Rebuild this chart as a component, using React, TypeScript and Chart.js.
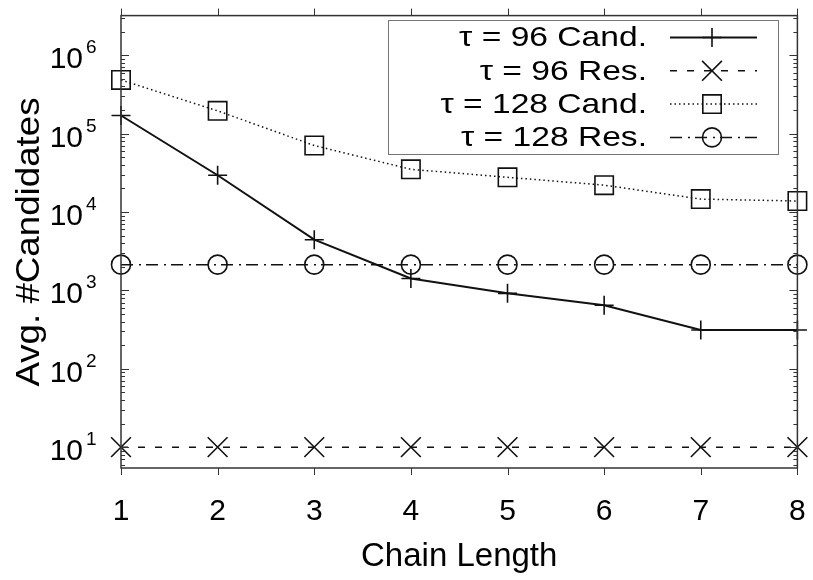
import React, { useEffect, useRef } from 'react';
import { Chart, registerables } from 'chart.js';
import { drawPoint } from 'chart.js/helpers';

Chart.register(...registerables);

// ---- data ----
const chainLengths = [1, 2, 3, 4, 5, 6, 7, 8];
const tau96Cand = [170000, 29400, 4430, 1420, 916, 646, 312, 312];
const tau96Res = [10, 10, 10, 10, 10, 10, 10, 10];
const tau128Cand = [483000, 195000, 70500, 35000, 27700, 22000, 14600, 13800];
const tau128Res = [2130, 2130, 2130, 2130, 2130, 2130, 2130, 2130];
const seriesLabels = ['τ = 96 Cand.', 'τ = 96 Res.', 'τ = 128 Cand.', 'τ = 128 Res.'];
const xTickValues = [1, 2, 3, 4, 5, 6, 7, 8];
const yDecadeExponents = [1, 2, 3, 4, 5, 6];
const xTitle = 'Chain Length';
const yTitle = 'Avg. #Candidates';

const FONT = '"Liberation Sans", Arial, Helvetica, sans-serif';
const INK = '#111';
const AXIS = '#333';

const toPoints = (vals: number[]) => vals.map((v, i) => ({ x: chainLengths[i], y: v }));

const decorPlugin = {
  id: 'decor',
  afterDatasetsDraw(chart: any) {
    const ctx = chart.ctx as CanvasRenderingContext2D;
    const { left, right, top, bottom } = chart.chartArea;
    const xs = chart.scales.x;
    const ys = chart.scales.y;
    ctx.save();
    // border
    ctx.strokeStyle = AXIS;
    ctx.lineWidth = 1.5;
    ctx.setLineDash([]);
    ctx.strokeRect(left, top, right - left, bottom - top);
    // x ticks (outward top & bottom)
    ctx.beginPath();
    xTickValues.forEach((v) => {
      const px = Math.round(xs.getPixelForValue(v)) + 0.5;
      ctx.moveTo(px, bottom);
      ctx.lineTo(px, bottom + 7);
      ctx.moveTo(px, top);
      ctx.lineTo(px, top - 7);
    });
    ctx.lineWidth = 1;
    ctx.stroke();
    // y ticks (inward left & right), major + minor
    ctx.beginPath();
    for (let e = 0; e <= 7; e++) {
      for (let m = 1; m <= 9; m++) {
        const val = m * Math.pow(10, e);
        if (val < ys.min || val > ys.max) continue;
        const py = Math.round(ys.getPixelForValue(val)) + 0.5;
        const len = m === 1 ? 8 : 4;
        ctx.moveTo(left, py);
        ctx.lineTo(left + len, py);
        ctx.moveTo(right, py);
        ctx.lineTo(right - len, py);
      }
    }
    ctx.stroke();

    // x tick labels
    ctx.fillStyle = '#000';
    ctx.font = `30px ${FONT}`;
    ctx.textAlign = 'center';
    ctx.textBaseline = 'middle';
    xTickValues.forEach((v) => {
      ctx.fillText(String(v), xs.getPixelForValue(v), 512);
    });
    // y tick labels 10^n
    yDecadeExponents.forEach((e) => {
      const py = ys.getPixelForValue(Math.pow(10, e));
      ctx.font = `30px ${FONT}`;
      ctx.textAlign = 'right';
      ctx.textBaseline = 'alphabetic';
      ctx.fillText('10', 83, py + 13);
      ctx.font = `19px ${FONT}`;
      ctx.textAlign = 'left';
      ctx.fillText(String(e), 86, py - 2);
    });
    // axis titles
    ctx.font = `33px ${FONT}`;
    ctx.textAlign = 'center';
    ctx.textBaseline = 'middle';
    ctx.fillText(xTitle, (left + right) / 2, 557);
    ctx.save();
    ctx.translate(30, 242);
    ctx.rotate(-Math.PI / 2);
    ctx.scale(1.08, 1);
    ctx.font = `34px ${FONT}`;
    ctx.fillText(yTitle, 0, 0);
    ctx.restore();

    // legend
    ctx.strokeStyle = '#777';
    ctx.lineWidth = 1;
    ctx.strokeRect(388.5, 20.5, 390, 134);
    chart.data.datasets.forEach((ds: any, i: number) => {
      const cy = 37.5 + i * 33.3;
      ctx.save();
      ctx.fillStyle = '#000';
      ctx.font = `28px ${FONT}`;
      ctx.textAlign = 'right';
      ctx.textBaseline = 'middle';
      ctx.translate(647, cy + 1);
      ctx.scale(1.2, 1);
      ctx.fillText(ds.label, 0, 0);
      ctx.restore();
      ctx.strokeStyle = ds.borderColor;
      ctx.lineWidth = ds.borderWidth;
      ctx.setLineDash(ds.borderDash || []);
      ctx.beginPath();
      ctx.moveTo(670, cy);
      ctx.lineTo(757, cy);
      ctx.stroke();
      ctx.setLineDash([]);
      ctx.lineWidth = ds.pointBorderWidth;
      ctx.strokeStyle = ds.pointBorderColor;
      ctx.fillStyle = 'rgba(0,0,0,0)';
      drawPoint(ctx, { pointStyle: ds.pointStyle, radius: ds.pointRadius, rotation: 0, borderWidth: ds.pointBorderWidth }, 712, cy);
    });
    ctx.restore();
  },
};

export default function App() {
  const ref = useRef<HTMLCanvasElement | null>(null);
  useEffect(() => {
    if (!ref.current) return;
    const common = {
      borderColor: INK,
      pointBorderColor: INK,
      pointBackgroundColor: 'rgba(0,0,0,0)',
      pointBorderWidth: 1.6,
      fill: false,
      tension: 0,
      clip: false as const,
    };
    const chart = new Chart(ref.current, {
      type: 'line',
      data: {
        datasets: [
          { ...common, label: seriesLabels[0], data: toPoints(tau96Cand), borderWidth: 2, borderDash: [], pointStyle: 'cross', pointRadius: 9.5 },
          { ...common, label: seriesLabels[1], data: toPoints(tau96Res), borderWidth: 1.5, borderDash: [7, 10], pointStyle: 'crossRot', pointRadius: 14 },
          { ...common, label: seriesLabels[2], data: toPoints(tau128Cand), borderWidth: 1.5, borderDash: [1.5, 3], pointStyle: 'rect', pointRadius: 13 },
          { ...common, label: seriesLabels[3], data: toPoints(tau128Res), borderWidth: 1.5, borderDash: [12, 6, 2, 5], pointStyle: 'circle', pointRadius: 9.5 },
        ] as any,
      },
      options: {
        responsive: false,
        animation: false,
        devicePixelRatio: 1,
        layout: { padding: { left: 121, right: 15, top: 12, bottom: 112 } },
        plugins: { legend: { display: false }, tooltip: { enabled: false } },
        events: [],
        scales: {
          x: { type: 'linear', min: 1, max: 8, display: false },
          y: { type: 'logarithmic', min: 5.42, max: 3.2e6, display: false },
        },
      },
      plugins: [decorPlugin],
    });
    return () => chart.destroy();
  }, []);
  return (
    <div style={{ position: 'fixed', left: 0, top: 0, width: 813, height: 580, background: '#fff' }}>
      <canvas ref={ref} width={813} height={580} style={{ display: 'block', width: 813, height: 580 }} />
    </div>
  );
}
